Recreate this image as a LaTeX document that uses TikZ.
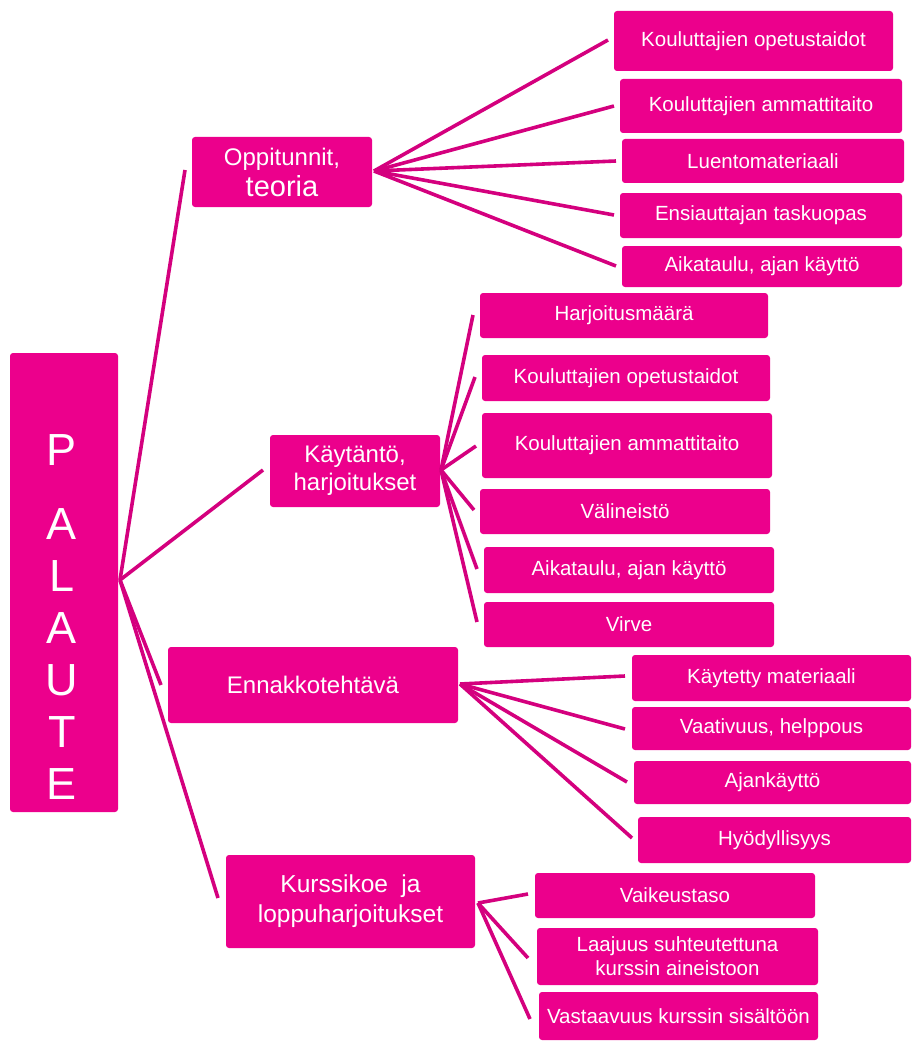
\documentclass[tikz,border=0pt]{standalone}
\usepackage{fontspec}
\setmainfont{Liberation Sans}
\definecolor{mag}{RGB}{236,0,140}
\definecolor{lnk}{RGB}{212,0,126}
\tikzset{
  box/.style={fill=mag, rounded corners=3pt, inner sep=0pt, text=white, align=center},
  link/.style={draw=lnk, line width=3.6pt},
  fsmall/.style={font=\fontsize{20.5}{24}\selectfont},
  fmid/.style={font=\fontsize{24}{28}\selectfont},
  fkur/.style={font=\fontsize{24.5}{30}\selectfont},
  flet/.style={font=\fontsize{45}{52}\selectfont}
}
\newcommand\bx[7]{%
  \node[box,#6,minimum width={(#4-#2)*1pt},minimum height={(#5-#3)*1pt}]
    (#1) at ({(#2+#4)/2},{(#3+#5)/2}) {#7};}
\begin{document}
\begin{tikzpicture}[x=1pt,y=-1pt]
\useasboundingbox (0,0) rectangle (911,1043);

% root
\bx{pal}{10}{353}{118}{812}{}{}
\node[flet, text=white, align=center, inner sep=0pt] (palt) at (62,617.5) {P\\[22pt]A\\L\\A\\U\\T\\E};

% level 1
\bx{opp}{192}{137}{372}{207}{}{{\fontsize{24}{26}\selectfont Oppitunnit,}\\[4pt]{\fontsize{29}{30}\selectfont teoria}}
\bx{kay}{270}{435}{440}{507}{fmid}{Käytäntö,\\harjoitukset}
\bx{enn}{168}{647}{458}{723}{fmid}{Ennakkotehtävä}
\bx{kur}{226}{855}{475}{948}{fkur}{Kurssikoe\hspace{0.55em}ja\\loppuharjoitukset}

% Oppitunnit children
\bx{o1}{614}{11}{893}{71}{fsmall}{Kouluttajien opetustaidot}
\bx{o2}{620}{79}{902}{133}{fsmall}{Kouluttajien ammattitaito}
\bx{o3}{622}{139}{904}{183}{fsmall}{Luentomateriaali}
\bx{o4}{620}{193}{902}{238}{fsmall}{Ensiauttajan taskuopas}
\bx{o5}{622}{246}{902}{287}{fsmall}{Aikataulu, ajan käyttö}

% Käytäntö children
\bx{k1}{480}{293}{768}{338}{fsmall}{Harjoitusmäärä}
\bx{k2}{482}{355}{770}{401}{fsmall}{Kouluttajien opetustaidot}
\bx{k3}{482}{413}{772}{478}{fsmall}{Kouluttajien ammattitaito}
\bx{k4}{480}{489}{770}{534}{fsmall}{Välineistö}
\bx{k5}{484}{547}{774}{593}{fsmall}{Aikataulu, ajan käyttö}
\bx{k6}{484}{602}{774}{647}{fsmall}{Virve}

% Ennakkotehtävä children
\bx{e1}{632}{655}{911}{701}{fsmall}{Käytetty materiaali}
\bx{e2}{632}{707}{911}{750}{fsmall}{Vaativuus, helppous}
\bx{e3}{634}{761}{911}{804}{fsmall}{Ajankäyttö}
\bx{e4}{638}{817}{911}{863}{fsmall}{Hyödyllisyys}

% Kurssikoe children
\bx{v1}{535}{873}{815}{918}{fsmall}{Vaikeustaso}
\bx{v2}{537}{928}{818}{985}{fsmall}{Laajuus suhteutettuna\\kurssin aineistoon}
\bx{v3}{539}{992}{818}{1040}{fsmall}{Vastaavuus kurssin sisältöön}

% hubs and free ends
\coordinate (hP) at (120,580);
\coordinate (hO) at (374,171);
\coordinate (hK) at (441,470);
\coordinate (hE) at (460,684);
\coordinate (hU) at (478,903);

\coordinate (pOpp) at (185,170);
\coordinate (pKay) at (263,470);
\coordinate (pEnn) at (161,685);
\coordinate (pKur) at (218,898);

\coordinate (eo1) at (608,40);
\coordinate (eo2) at (614,106);
\coordinate (eo3) at (616,161);
\coordinate (eo4) at (614,215);
\coordinate (eo5) at (616,266);

\coordinate (ek1) at (473,315);
\coordinate (ek2) at (475,377);
\coordinate (ek3) at (476,446);
\coordinate (ek4) at (474,510);
\coordinate (ek5) at (477,569);
\coordinate (ek6) at (477,622);

\coordinate (ee1) at (625,676);
\coordinate (ee2) at (625,729);
\coordinate (ee3) at (627,782);
\coordinate (ee4) at (632,838);

\coordinate (ev1) at (528,894);
\coordinate (ev2) at (528,958);
\coordinate (ev3) at (530,1019);

\foreach \t in {pOpp,pKay,pEnn,pKur} \draw[link] (hP) -- (\t);
\foreach \t in {eo1,eo2,eo3,eo4,eo5} \draw[link] (hO) -- (\t);
\foreach \t in {ek1,ek2,ek3,ek4,ek5,ek6} \draw[link] (hK) -- (\t);
\foreach \t in {ee1,ee2,ee3,ee4} \draw[link] (hE) -- (\t);
\foreach \t in {ev1,ev2,ev3} \draw[link] (hU) -- (\t);
\end{tikzpicture}
\end{document}
